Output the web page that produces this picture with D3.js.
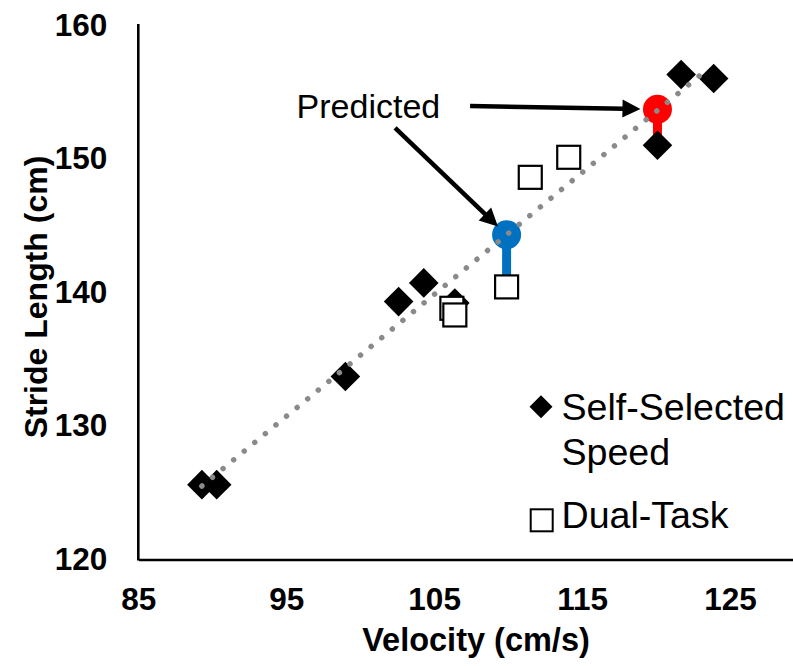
<!DOCTYPE html>
<html>
<head>
<meta charset="utf-8">
<script src="https://cdn.jsdelivr.net/npm/d3@7"></script>
<style>
  html, body { margin: 0; padding: 0; background: #fff; }
  svg { display: block; }
</style>
</head>
<body>
<svg id="chart" width="793" height="666"></svg>
<script>
// Axis ticks
const xTicks = [85, 95, 105, 115, 125];
const yTicks = [120, 130, 140, 150, 160];

// Self-selected speed trials (velocity cm/s, stride length cm)
const selfVel    = [89.3, 90.3, 99.0, 102.6, 104.3, 106.4, 120.1, 121.7, 123.9];
const selfStride = [125.6, 125.6, 133.7, 139.3, 140.7, 139.2, 151.0, 156.3, 156.0];

// Dual-task trials
const dualVel    = [106.2, 106.4, 109.9, 111.5, 114.1];
const dualStride = [138.8, 138.3, 140.4, 148.6, 150.1];

// Predicted stride length on the trend line, and the measured value it is compared to
const predVel      = [109.9, 120.1];
const predStride   = [144.3, 153.7];
const measStride   = [140.4, 151.0];
const predColors   = ["#0070C0", "#FF0000"];

// Linear trend line through the self-selected trials
const trendVel    = [89.3, 123.6];
const trendStride = [125.5, 156.8];

// "Predicted" callout: label anchor and arrow tails (data units)
const calloutText  = "Predicted";
const calloutAt    = [95.7, 153.05];
const arrowTailVel    = [107.43, 102.36];
const arrowTailStride = [153.93, 152.30];
const arrowTarget     = [1, 0];      // index into predicted points
const arrowGap        = [17, 12];    // px gap between tip and circle centre

// Legend entries
const legendLabels = [["Self-Selected", "Speed"], ["Dual-Task"]];

const FONT = "'Liberation Sans', Arial, Helvetica, sans-serif";
const svg = d3.select("#chart");
svg.append("rect").attr("width", 793).attr("height", 666).attr("fill", "#fff");

const x = d3.scaleLinear().domain([85, 130]).range([138.3, 803.9]);
const y = d3.scaleLinear().domain([120, 160]).range([559.5, 25]);

// Axes
const xAxis = svg.append("g")
  .attr("transform", `translate(0,${y(120)})`)
  .call(d3.axisBottom(x).tickValues(xTicks).tickSize(0).tickSizeOuter(0).tickPadding(28).tickFormat(d3.format("d")));
const yAxis = svg.append("g")
  .attr("transform", `translate(${x(85)},0)`)
  .call(d3.axisLeft(y).tickValues(yTicks).tickSize(0).tickSizeOuter(0).tickPadding(31).tickFormat(d3.format("d")));

[xAxis, yAxis].forEach(g => {
  g.select(".domain").attr("stroke", "#000").attr("stroke-width", 2.6);
  g.selectAll(".tick line").remove();
  g.selectAll(".tick text")
    .attr("fill", "#000")
    .style("font-family", FONT)
    .style("font-weight", "bold")
    .style("font-size", "31.5px");
});
yAxis.select(".domain").attr("d", `M0,${y(160) - 1}V${y(120) + 1}`);

// Axis titles
svg.append("text")
  .attr("x", 476).attr("y", 651)
  .attr("text-anchor", "middle")
  .style("font-family", FONT).style("font-weight", "bold").style("font-size", "32.5px")
  .text("Velocity (cm/s)");
svg.append("text")
  .attr("transform", "translate(47,297) rotate(-90)")
  .attr("text-anchor", "middle")
  .style("font-family", FONT).style("font-weight", "bold").style("font-size", "32px")
  .text("Stride Length (cm)");

// Marker shapes
const diamond = r => `M0,${-r}L${r},0L0,${r}L${-r},0Z`;

// Stems from predicted to measured values
const plot = svg.append("g");
plot.selectAll("line.stem")
  .data(predVel.map((v, i) => i))
  .join("line")
  .attr("class", "stem")
  .attr("x1", i => x(predVel[i])).attr("x2", i => x(predVel[i]))
  .attr("y1", i => y(predStride[i])).attr("y2", i => y(measStride[i]))
  .attr("stroke", i => predColors[i])
  .attr("stroke-width", 9);

// Self-selected speed diamonds
plot.selectAll("path.self")
  .data(selfVel.map((v, i) => i))
  .join("path")
  .attr("class", "self")
  .attr("transform", i => `translate(${x(selfVel[i])},${y(selfStride[i])})`)
  .attr("d", diamond(14.8))
  .attr("fill", "#000");

// Dual-task squares
const sq = 23;
plot.selectAll("rect.dual")
  .data(dualVel.map((v, i) => i))
  .join("rect")
  .attr("class", "dual")
  .attr("x", i => x(dualVel[i]) - sq / 2)
  .attr("y", i => y(dualStride[i]) - sq / 2)
  .attr("width", sq).attr("height", sq)
  .attr("fill", "#fff").attr("stroke", "#000").attr("stroke-width", 2.2);

// Predicted points
plot.selectAll("circle.pred")
  .data(predVel.map((v, i) => i))
  .join("circle")
  .attr("class", "pred")
  .attr("cx", i => x(predVel[i])).attr("cy", i => y(predStride[i]))
  .attr("r", 14.5)
  .attr("fill", i => predColors[i]);

// Dotted trend line
plot.append("line")
  .attr("x1", x(trendVel[0])).attr("y1", y(trendStride[0]))
  .attr("x2", x(trendVel[1])).attr("y2", y(trendStride[1]))
  .attr("stroke", "#8a8a8a")
  .attr("stroke-width", 5.5)
  .attr("stroke-linecap", "round")
  .attr("stroke-dasharray", "0.01 13.7");

// Callout label and arrows
svg.append("text")
  .attr("x", x(calloutAt[0])).attr("y", y(calloutAt[1]))
  .style("font-family", FONT).style("font-size", "34px")
  .text(calloutText);

const headLen = 18, headHalf = 9;
arrowTailVel.forEach((tv, k) => {
  const i = arrowTarget[k];
  const x0 = x(tv), y0 = y(arrowTailStride[k]);
  const cx = x(predVel[i]), cy = y(predStride[i]);
  const dx = cx - x0, dy = cy - y0, len = Math.hypot(dx, dy);
  const ux = dx / len, uy = dy / len;
  const tx = cx - ux * arrowGap[k], ty = cy - uy * arrowGap[k];
  const bx = tx - ux * headLen, by = ty - uy * headLen;
  svg.append("line")
    .attr("x1", x0).attr("y1", y0).attr("x2", bx + ux * 2).attr("y2", by + uy * 2)
    .attr("stroke", "#000").attr("stroke-width", 4.5);
  svg.append("path")
    .attr("d", `M${tx},${ty}L${bx - uy * headHalf},${by + ux * headHalf}L${bx + uy * headHalf},${by - ux * headHalf}Z`)
    .attr("fill", "#000");
});

// Legend
const legend = svg.append("g").style("font-family", FONT).style("font-size", "37.6px");
legend.append("path")
  .attr("transform", "translate(541,406.7)")
  .attr("d", diamond(11.5)).attr("fill", "#000");
legend.append("rect")
  .attr("x", 541.7 - 11).attr("y", 520.3 - 11).attr("width", 22).attr("height", 22)
  .attr("fill", "#fff").attr("stroke", "#000").attr("stroke-width", 2);
const legendBaselines = [[420, 465], [528.3]];
legendLabels.forEach((lines, k) => {
  lines.forEach((t, j) => {
    legend.append("text").attr("x", 561.5).attr("y", legendBaselines[k][j]).text(t);
  });
});
</script>
</body>
</html>
